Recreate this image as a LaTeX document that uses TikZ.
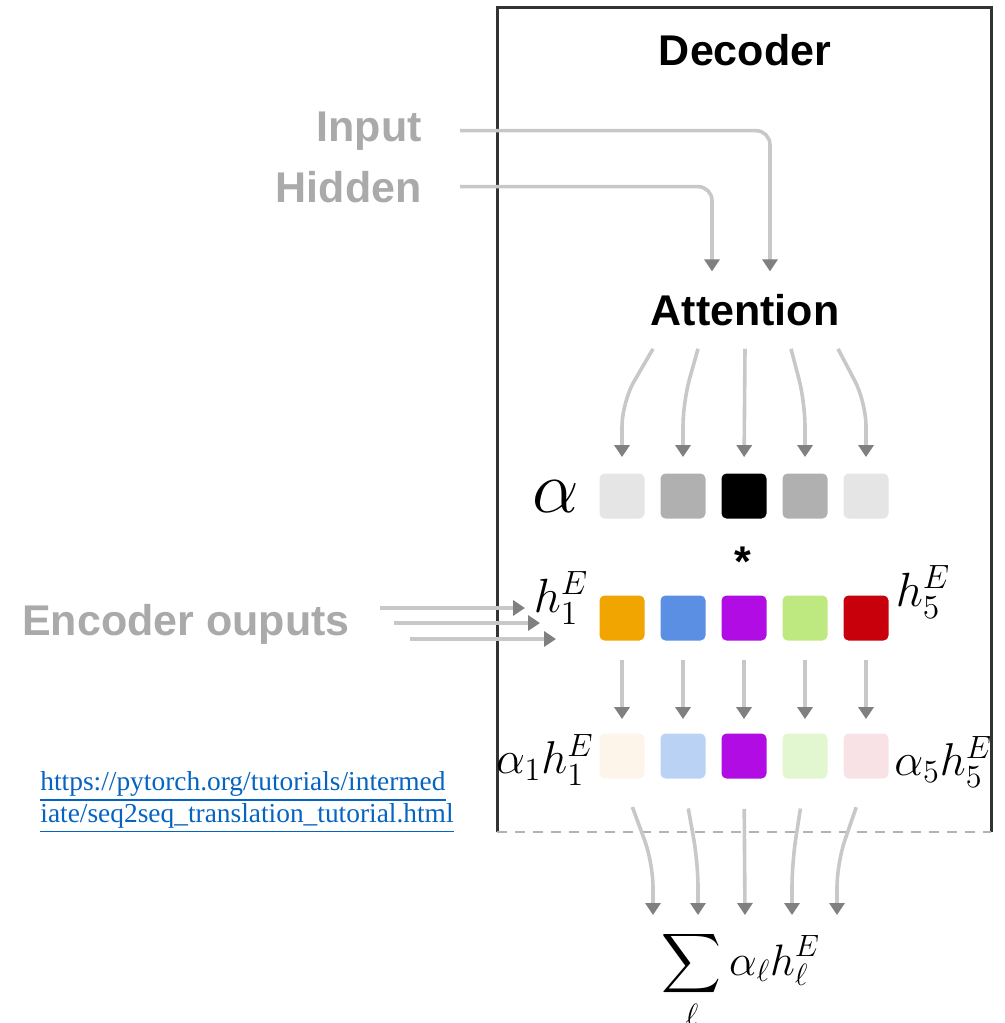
\RequirePackage{fix-cm}
\documentclass[tikz,border=0pt]{standalone}
\usepackage{exscale}
\usepackage{fontspec}
\setsansfont{Liberation Sans}
\newfontfamily\urlfont{Liberation Serif}
\usetikzlibrary{arrows.meta,calc}
\definecolor{linegray}{HTML}{C8C8C8}
\definecolor{tipgray}{HTML}{808080}
\definecolor{labelgray}{HTML}{AAAAAA}
\definecolor{boxgray}{HTML}{333333}
\definecolor{linkblue}{HTML}{0563C1}
\definecolor{hOrange}{HTML}{F0A500}
\definecolor{hBlue}{HTML}{5A8FE4}
\definecolor{hPurple}{HTML}{B00CE3}
\definecolor{hGreen}{HTML}{BEE880}
\definecolor{hRed}{HTML}{C8000C}
\definecolor{pOrange}{HTML}{FDF5E9}
\definecolor{pBlue}{HTML}{BAD3F5}
\definecolor{pGreen}{HTML}{E2F6CF}
\definecolor{pRed}{HTML}{F8E2E6}
\begin{document}
\begin{tikzpicture}[x=0.5pt,y=-0.5pt,
  title/.style={font=\sffamily\bfseries\fontsize{21.5}{24}\selectfont,inner sep=0pt},
  side/.style={title,text=labelgray},
  sq/.style={minimum size=22.5pt,inner sep=0pt,rounded corners=2.5pt},
  lbl/.style={inner sep=0pt,font=\fontsize{23}{28}\selectfont},
  arr/.style={draw=linegray,line width=1.8pt,-{Triangle[width=7.5pt,length=6pt,color=tipgray]}},
  down/.style={arr,shorten <=9.5pt,shorten >=7pt},
  frame/.style={draw=boxgray,line width=1.5pt},
  cut/.style={draw=gray!60,line width=1pt,dash pattern=on 5pt off 4pt}]
\useasboundingbox (0,0) rectangle (1005,1023);
\draw[frame] (497,832) -- (497,7) -- (991,7) -- (991,832);
\draw[cut] (497,832) -- (991,832);
\node[title,anchor=base] (dec) at (745,65) {Decoder};
\node[side,anchor=base east] (inp) at (422,141) {Input};
\node[side,anchor=base east] (hid) at (422,202) {Hidden};
\node[title,anchor=base] (att) at (745,325) {Attention};
\node[side,anchor=base east] (enc) at (350,635) {Encoder ouputs};
\node[sq,fill=black!10] (a1) at (622,496) {};
\node[sq,fill=black!31] (a2) at (683,496) {};
\node[sq,fill=black] (a3) at (744,496) {};
\node[sq,fill=black!31] (a4) at (805,496) {};
\node[sq,fill=black!10] (a5) at (866,496) {};
\node[sq,fill=hOrange] (h1) at (622,618) {};
\node[sq,fill=hBlue] (h2) at (683,618) {};
\node[sq,fill=hPurple] (h3) at (744,618) {};
\node[sq,fill=hGreen] (h4) at (805,618) {};
\node[sq,fill=hRed] (h5) at (866,618) {};
\node[sq,fill=pOrange] (p1) at (622,756) {};
\node[sq,fill=pBlue] (p2) at (683,756) {};
\node[sq,fill=hPurple] (p3) at (744,756) {};
\node[sq,fill=pGreen] (p4) at (805,756) {};
\node[sq,fill=pRed] (p5) at (866,756) {};
\node[lbl,font=\fontsize{37}{40}\selectfont] (alab) at (556,497) {$\alpha$};
\node[title,anchor=north] (star) at (743,547) {*};
\node[lbl,font=\fontsize{24}{28}\selectfont] (hlab1) at (561,598) {$h_1^E$};
\node[lbl,font=\fontsize{24}{28}\selectfont] (hlab5) at (923,592) {$h_5^E$};
\node[lbl,anchor=east] (plab1) at (594,760) {$\alpha_1h_1^E$};
\node[lbl,anchor=west] (plab5) at (894,762) {$\alpha_5h_5^E$};
\node[lbl,font=\fontsize{22}{26}\selectfont,anchor=base] (sum) at (741,975) {$\displaystyle\sum_{\ell}\alpha_\ell h_\ell^E$};
\node[inner sep=0pt,anchor=base west,align=left,text=linkblue,
  font=\urlfont\fontsize{13.7}{16}\selectfont] (url) at (40,822)
  {\underline{https://pytorch.org/tutorials/intermed}\\\underline{iate/seq2seq\_translation\_tutorial.html}};
\coordinate (e1) at (380,608);
\coordinate (e2) at (394,623);
\coordinate (e3) at (410,639);
\coordinate (s1) at (653,915);
\coordinate (s2) at (698,915);
\coordinate (s3) at (745,915);
\coordinate (s4) at (792,915);
\coordinate (s5) at (837,915);
\draw[arr,rounded corners=7pt] ([xshift=19pt]inp.east) -| ($(att.north)+(25,-22)$);
\draw[arr,rounded corners=7pt] ([xshift=19pt]hid.east) -| ($(att.north)+(-33,-22)$);
\draw[arr] (e1) -- ++(145,0);
\draw[arr] (e2) -- ++(146,0);
\draw[arr] (e3) -- ++(146,0);
\draw[arr,rounded corners=12pt,shorten >=8pt] ($(att.south)+(-92,23)$) -- ($(a1.north)+(0,-71)$) -- (a1.north);
\draw[arr,rounded corners=12pt,shorten >=8pt] ($(att.south)+(-47,23)$) -- ($(a2.north)+(0,-71)$) -- (a2.north);
\draw[arr,shorten >=8pt] ($(att.south)+(0,23)$) -- (a3.north);
\draw[arr,rounded corners=12pt,shorten >=8pt] ($(att.south)+(46,23)$) -- ($(a4.north)+(0,-71)$) -- (a4.north);
\draw[arr,rounded corners=12pt,shorten >=8pt] ($(att.south)+(93,23)$) -- ($(a5.north)+(0,-71)$) -- (a5.north);
\path
  (h1.south) edge[down] (p1.north)
  (h2.south) edge[down] (p2.north)
  (h3.south) edge[down] (p3.north)
  (h4.south) edge[down] (p4.north)
  (h5.south) edge[down] (p5.north)
;
\draw[arr,rounded corners=12pt,shorten <=15pt] (p1.south) -- ($(s1)+(0,-52)$) -- (s1);
\draw[arr,rounded corners=12pt,shorten <=15pt] (p2.south) -- ($(s2)+(0,-52)$) -- (s2);
\draw[arr,shorten <=15pt] (p3.south) -- (s3);
\draw[arr,rounded corners=12pt,shorten <=15pt] (p4.south) -- ($(s4)+(0,-52)$) -- (s4);
\draw[arr,rounded corners=12pt,shorten <=15pt] (p5.south) -- ($(s5)+(0,-52)$) -- (s5);
\end{tikzpicture}
\end{document}
